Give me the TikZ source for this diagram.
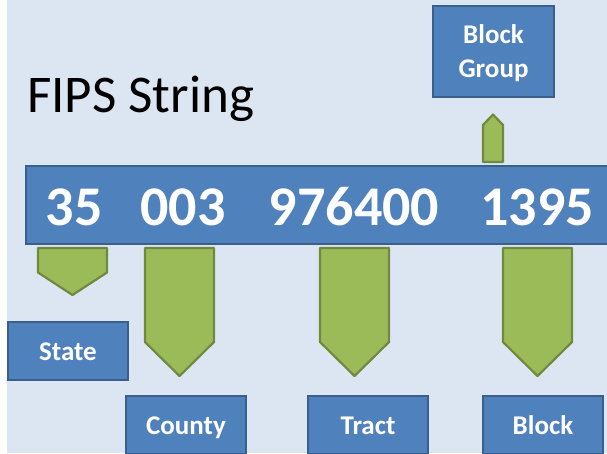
\documentclass[tikz,border=0pt]{standalone}
\usepackage{fontspec}
\setmainfont{Carlito}
\definecolor{slidebg}{HTML}{DCE6F2}
\definecolor{boxblue}{HTML}{4F81BD}
\definecolor{boxline}{HTML}{3A5F8B}
\definecolor{arrowfill}{HTML}{9BBB59}
\definecolor{arrowline}{HTML}{71893F}
\tikzset{
  fipsbox/.style={draw=boxline, fill=boxblue, line width=2.6pt, text=white,
    font=\bfseries\fontsize{27}{34}\selectfont, inner sep=0pt,
    minimum width=120pt, minimum height=58pt},
  onerow/.style={text height=19pt, text depth=0pt},
  fipsarrow/.style={draw=arrowline, fill=arrowfill, line width=2.2pt, line join=round},
  digits/.style={text=white, font=\bfseries\fontsize{56}{60}\selectfont, inner sep=0pt, anchor=base}
}
\begin{document}
\begin{tikzpicture}[x=1pt,y=1pt,yscale=-1,xscale=1]
		\useasboundingbox (0,0) rectangle (607,453);
		\clip (0,0) rectangle (607,453);
		
		%Shape: Background
		\fill [white] (0,0) rectangle (607,453);
		\fill [slidebg] (7,0) rectangle (607,453);
		%Shape: Rectangle (the string)
		\draw [draw=boxline, fill=boxblue, line width=2.6pt] (26,166) rectangle (625,244);
		
		%Shape: Arrow down to state
		\draw [fipsarrow] (38,248) -- (107,248) -- (107,272.5) -- (72.5,295) -- (38,272.5) -- cycle ;
		%Shape: Arrow down to county
		\draw [fipsarrow] (145,248) -- (214,248) -- (214,342) -- (179.5,376) -- (145,342) -- cycle ;
		%Shape: Arrow down to tract
		\draw [fipsarrow] (320,248) -- (389,248) -- (389,342) -- (354.5,376) -- (320,342) -- cycle ;
		%Shape: Arrow down to block
		\draw [fipsarrow] (503,248) -- (572,248) -- (572,342) -- (537.5,376) -- (503,342) -- cycle ;
		%Shape: Arrow up to block group
		\draw [fipsarrow] (483,162) -- (483,125) -- (493,114.5) -- (503,125) -- (503,162) -- cycle ;
		
		% Boxes
		\node [fipsbox, onerow] (state) at (68,351) {State};
		\node [fipsbox, onerow] (county) at (186,425) {County};
		\node [fipsbox, onerow] (tract) at (368,425) {Tract};
		\node [fipsbox, onerow] (block) at (543,425) {Block};
		\node [fipsbox, align=center, minimum width=121pt, minimum height=91pt, text depth=1pt] (blockgroup) at (493.5,51.5) {Block\\Group};
		
		% Text Node
		\node [anchor=base west, inner sep=0pt, font=\fontsize{53}{60}\selectfont] (title) at (27,112) {FIPS String};
		% Text Node
		\node [digits] (stcode) at (74,225) {35};
		\node [digits] (cocode) at (183,225) {003};
		\node [digits] (trcode) at (354,225) {976400};
		\node [digits] (blcode) at (537,225) {1395};
		
\end{tikzpicture}
\end{document}
